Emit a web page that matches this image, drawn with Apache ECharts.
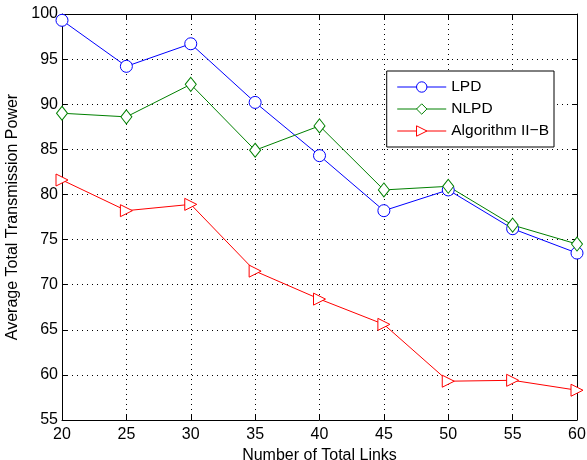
<!DOCTYPE html>
<html>
<head>
<meta charset="utf-8">
<script src="https://cdn.jsdelivr.net/npm/echarts@6/dist/echarts.min.js"></script>
<style>
  html, body { margin: 0; padding: 0; background: #fff; }
  #chart { width: 587px; height: 460px; }
</style>
</head>
<body>
<div id="chart"></div>
<script>
const links = [20, 25, 30, 35, 40, 45, 50, 55, 60];
const lpd = [99.3, 94.2, 96.7, 90.2, 84.3, 78.2, 80.5, 76.2, 73.5];
const nlpd = [89.0, 88.6, 92.2, 84.9, 87.6, 80.5, 80.9, 76.6, 74.5];
const algIIB = [81.6, 78.2, 78.9, 71.5, 68.4, 65.6, 59.3, 59.4, 58.3];

const chart = echarts.init(document.getElementById('chart'));

const font = 'Liberation Sans';
const colors = {
  lpd: '#0000ff',
  nlpd: '#008000',
  alg: '#ff0000',
  axis: '#000'
};

function toPairs(vals) {
  return links.map((x, i) => [x, vals[i]]);
}

function lineSeries(name, vals, color, symbol, rotate) {
  return {
    name: name,
    type: 'line',
    data: toPairs(vals),
    symbol: symbol,
    symbolSize: symbol === 'diamond' ? [11, 14] : 12,
    symbolRotate: rotate || 0,
    showSymbol: true,
    lineStyle: { width: 1, color: color },
    itemStyle: { color: '#fff', borderColor: color, borderWidth: 1 },
    emphasis: { disabled: true },
    animation: false
  };
}

const gridLine = { show: true, lineStyle: { color: '#000', type: [1, 4], width: 1 } };

const option = {
  backgroundColor: '#fff',
  animation: false,
  grid: { left: 62, right: 10, top: 14, bottom: 40, containLabel: false, outerBoundsMode: 'none' },
  legend: {
    right: 33,
    top: 71,
    orient: 'vertical',
    backgroundColor: '#fff',
    borderColor: '#000',
    borderWidth: 1,
    borderRadius: 0,
    padding: [8, 5, 8, 10],
    itemGap: 6,
    itemWidth: 49,
    itemHeight: 13,
    lineStyle: { width: 1 },
    itemStyle: { borderWidth: 1 },
    textStyle: { fontFamily: font, fontSize: 15.5, color: '#000' },
    data: ['LPD', 'NLPD', 'Algorithm II\u2212B']
  },
  xAxis: [
    {
      type: 'value',
      min: 20,
      max: 60,
      interval: 5,
      name: 'Number of Total Links',
      nameLocation: 'middle',
      nameGap: 24,
      nameTextStyle: { fontFamily: font, fontSize: 16, color: '#000' },
      axisLine: { show: true, lineStyle: { color: colors.axis, width: 1 } },
      axisTick: { show: true, inside: true, length: 5, lineStyle: { color: '#000' } },
      axisLabel: { fontFamily: font, fontSize: 16, color: '#000', margin: 7 },
      splitLine: gridLine
    },
    {
      type: 'value',
      position: 'top',
      min: 20,
      max: 60,
      interval: 5,
      axisLine: { show: true, lineStyle: { color: colors.axis, width: 1 } },
      axisTick: { show: true, inside: true, length: 5, lineStyle: { color: '#000' } },
      axisLabel: { show: false },
      splitLine: { show: false }
    }
  ],
  yAxis: [
    {
      type: 'value',
      min: 55,
      max: 100,
      interval: 5,
      name: 'Average Total Transmission Power',
      nameLocation: 'middle',
      nameGap: 34,
      nameTextStyle: { fontFamily: font, fontSize: 16, color: '#000' },
      axisLine: { show: true, lineStyle: { color: colors.axis, width: 1 } },
      axisTick: { show: true, inside: true, length: 5, lineStyle: { color: '#000' } },
      axisLabel: { fontFamily: font, fontSize: 16, color: '#000', margin: 4 },
      splitLine: gridLine
    },
    {
      type: 'value',
      position: 'right',
      min: 55,
      max: 100,
      interval: 5,
      axisLine: { show: true, lineStyle: { color: colors.axis, width: 1 } },
      axisTick: { show: true, inside: true, length: 5, lineStyle: { color: '#000' } },
      axisLabel: { show: false },
      splitLine: { show: false }
    }
  ],
  series: [
    lineSeries('LPD', lpd, colors.lpd, 'circle'),
    lineSeries('NLPD', nlpd, colors.nlpd, 'diamond'),
    lineSeries('Algorithm II\u2212B', algIIB, colors.alg, 'triangle', -90)
  ]
};

chart.setOption(option);
</script>
</body>
</html>
